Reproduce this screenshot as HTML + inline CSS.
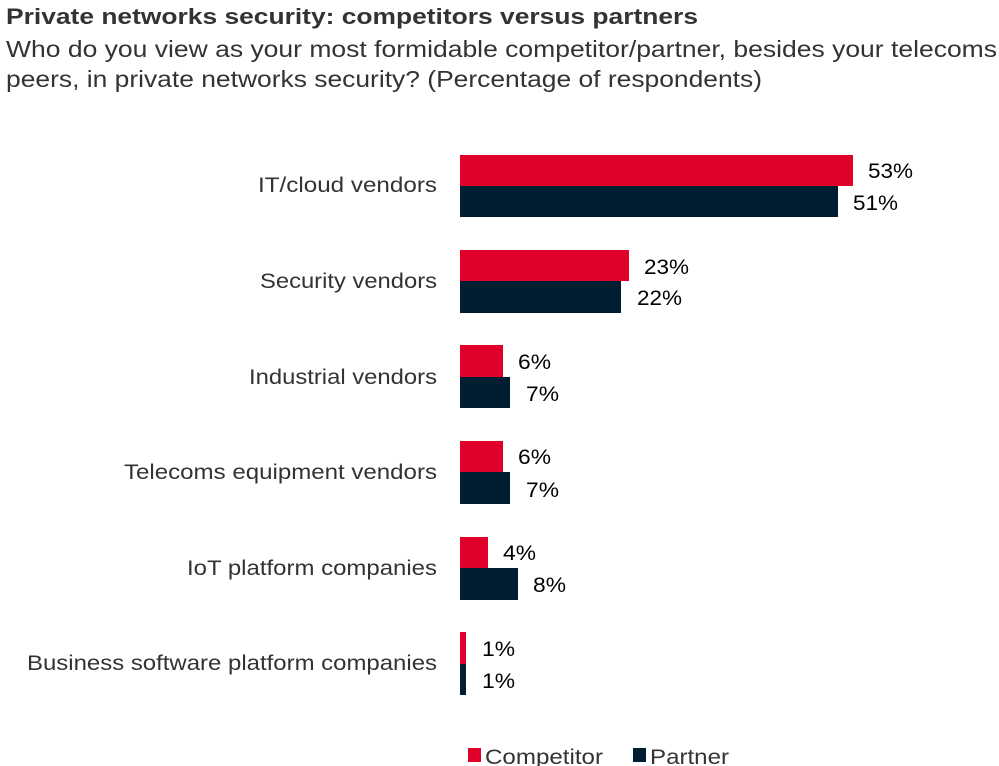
<!DOCTYPE html>
<html><head><meta charset="utf-8"><style>
body{margin:0;background:#fff;}
svg{display:block;font-family:"Liberation Sans",Arial,sans-serif;}
</style></head><body>
<svg width="999" height="766" viewBox="0 0 999 766" xmlns="http://www.w3.org/2000/svg">
<text x="6" y="24" font-size="22" font-weight="bold" fill="#333" textLength="692" lengthAdjust="spacingAndGlyphs">Private networks security: competitors versus partners</text>
<text x="6" y="57" font-size="23" fill="#333" textLength="991" lengthAdjust="spacingAndGlyphs">Who do you view as your most formidable competitor/partner, besides your telecoms</text>
<text x="6" y="87" font-size="23" fill="#333" textLength="756" lengthAdjust="spacingAndGlyphs">peers, in private networks security? (Percentage of respondents)</text>
<g font-size="21" fill="#333">
<rect x="460" y="155" width="393" height="31" fill="#e0002a"/>
<rect x="460" y="186" width="378" height="31" fill="#001e32"/>
<text x="868" y="178" fill="#000" textLength="45" lengthAdjust="spacingAndGlyphs">53%</text><text x="853" y="210" fill="#000" textLength="45" lengthAdjust="spacingAndGlyphs">51%</text>
<text x="258" y="192" textLength="179" lengthAdjust="spacingAndGlyphs">IT/cloud vendors</text>

<rect x="460" y="250" width="169" height="31" fill="#e0002a"/>
<rect x="460" y="281" width="161" height="32" fill="#001e32"/>
<text x="644" y="274" fill="#000" textLength="45" lengthAdjust="spacingAndGlyphs">23%</text><text x="637" y="305" fill="#000" textLength="45" lengthAdjust="spacingAndGlyphs">22%</text>
<text x="260" y="288" textLength="177" lengthAdjust="spacingAndGlyphs">Security vendors</text>

<rect x="460" y="345" width="43" height="32" fill="#e0002a"/>
<rect x="460" y="377" width="50" height="31" fill="#001e32"/>
<text x="518" y="369" fill="#000" textLength="33" lengthAdjust="spacingAndGlyphs">6%</text><text x="526" y="401" fill="#000" textLength="33" lengthAdjust="spacingAndGlyphs">7%</text>
<text x="249" y="384" textLength="188" lengthAdjust="spacingAndGlyphs">Industrial vendors</text>

<rect x="460" y="441" width="43" height="31" fill="#e0002a"/>
<rect x="460" y="472" width="50" height="32" fill="#001e32"/>
<text x="518" y="464" fill="#000" textLength="33" lengthAdjust="spacingAndGlyphs">6%</text><text x="526" y="497" fill="#000" textLength="33" lengthAdjust="spacingAndGlyphs">7%</text>
<text x="124" y="479" textLength="313" lengthAdjust="spacingAndGlyphs">Telecoms equipment vendors</text>

<rect x="460" y="537" width="28" height="31" fill="#e0002a"/>
<rect x="460" y="568" width="58" height="32" fill="#001e32"/>
<text x="503" y="560" fill="#000" textLength="33" lengthAdjust="spacingAndGlyphs">4%</text><text x="533" y="592" fill="#000" textLength="33" lengthAdjust="spacingAndGlyphs">8%</text>
<text x="187" y="575" textLength="250" lengthAdjust="spacingAndGlyphs">IoT platform companies</text>

<rect x="460" y="632" width="6" height="32" fill="#e0002a"/>
<rect x="460" y="664" width="6" height="31" fill="#001e32"/>
<text x="482" y="656" fill="#000" textLength="33" lengthAdjust="spacingAndGlyphs">1%</text><text x="482" y="688" fill="#000" textLength="33" lengthAdjust="spacingAndGlyphs">1%</text>
<text x="27" y="670" textLength="410" lengthAdjust="spacingAndGlyphs">Business software platform companies</text>

<rect x="468" y="748" width="13" height="14" fill="#e0002a"/>
<text x="485" y="764" textLength="118" lengthAdjust="spacingAndGlyphs">Competitor</text>
<rect x="633" y="748" width="13" height="14" fill="#001e32"/>
<text x="650" y="764" textLength="79" lengthAdjust="spacingAndGlyphs">Partner</text>
</g>
</svg>
</body></html>
